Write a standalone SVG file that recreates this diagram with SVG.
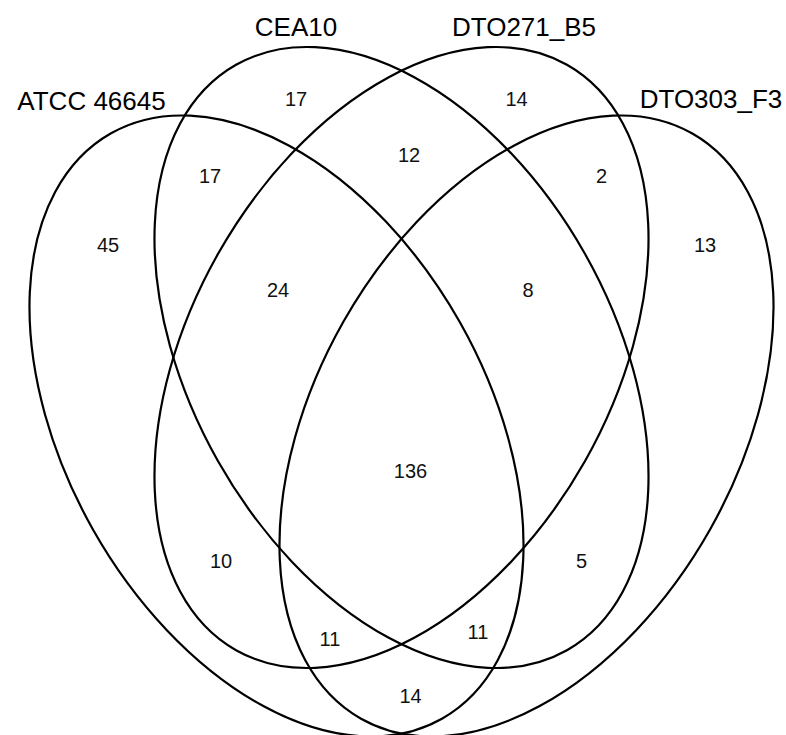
<svg xmlns="http://www.w3.org/2000/svg" width="786" height="735" viewBox="0 0 786 735">
  <style>
    .set { fill: none; stroke: #000; stroke-width: 2.2; }
    .lab { font-family: "Liberation Sans", Arial, sans-serif; font-size: 26px; fill: #000; text-anchor: middle; }
    .num { font-family: "Liberation Sans", Arial, sans-serif; font-size: 20px; fill: #111; text-anchor: middle; }
  </style>
  <rect width="786" height="735" fill="#fff"/>
  <g id="set-atcc">
    <ellipse class="set" cx="276.5" cy="426" rx="336.2" ry="210.7" transform="rotate(60.52 276.5 426)"/>
    <text class="lab" x="91.5" y="110">ATCC 46645</text>
  </g>
  <g id="set-cea10">
    <ellipse class="set" cx="401.5" cy="357.5" rx="336.2" ry="210.7" transform="rotate(60.52 401.5 357.5)"/>
    <text class="lab" x="296" y="36">CEA10</text>
  </g>
  <g id="set-dto271">
    <ellipse class="set" cx="401.5" cy="357.5" rx="336.2" ry="210.7" transform="rotate(-60.52 401.5 357.5)"/>
    <text class="lab" x="524" y="36">DTO271_B5</text>
  </g>
  <g id="set-dto303">
    <ellipse class="set" cx="526.5" cy="426" rx="336.2" ry="210.7" transform="rotate(-60.52 526.5 426)"/>
    <text class="lab" x="711" y="108">DTO303_F3</text>
  </g>
  <g id="counts">
    <text class="num" x="108" y="252">45</text>
    <text class="num" x="296" y="106">17</text>
    <text class="num" x="516.5" y="106">14</text>
    <text class="num" x="705" y="252">13</text>
    <text class="num" x="210" y="182.5">17</text>
    <text class="num" x="409" y="162">12</text>
    <text class="num" x="601.5" y="182.5">2</text>
    <text class="num" x="278" y="297">24</text>
    <text class="num" x="528" y="297">8</text>
    <text class="num" x="410.5" y="478">136</text>
    <text class="num" x="221" y="568">10</text>
    <text class="num" x="581.5" y="568">5</text>
    <text class="num" x="330" y="645.5">11</text>
    <text class="num" x="478" y="639">11</text>
    <text class="num" x="410.5" y="702.5">14</text>
  </g>
</svg>
